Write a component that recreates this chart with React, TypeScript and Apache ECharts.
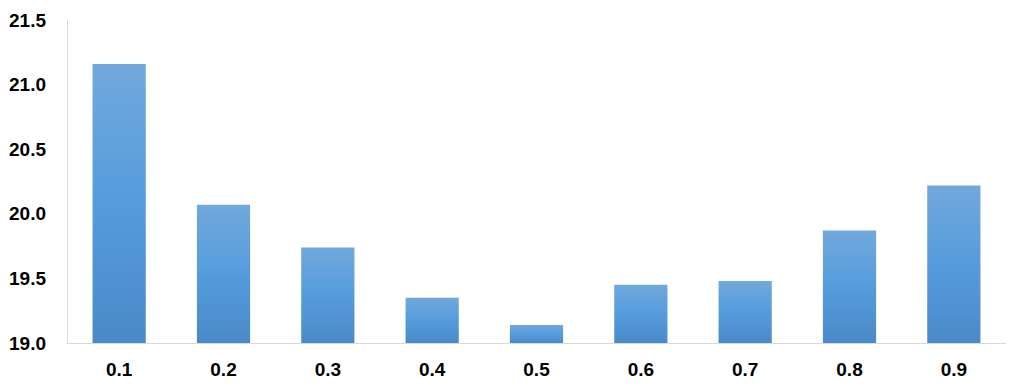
import React, { useEffect, useRef } from "react";
import * as echarts from "echarts";

const categories = ["0.1", "0.2", "0.3", "0.4", "0.5", "0.6", "0.7", "0.8", "0.9"];
const values = [21.16, 20.07, 19.74, 19.35, 19.14, 19.45, 19.48, 19.87, 20.22];
const yMin = 19.0;
const yMax = 21.5;
const yStep = 0.5;

export default function App() {
  const ref = useRef<HTMLDivElement>(null);
  useEffect(() => {
    document.body.style.margin = "0";
    if (!ref.current) return;
    const chart = echarts.init(ref.current, undefined, { renderer: "svg" });
    const font = "'Liberation Sans', Arial, sans-serif";
    chart.setOption({
      animation: false,
      grid: { left: 67, right: 15, top: 20, bottom: 49, containLabel: false },
      xAxis: {
        type: "category",
        data: categories,
        axisLine: { show: true, lineStyle: { color: "#D9D9D9", width: 1 } },
        axisTick: { show: false },
        axisLabel: { color: "#000", fontWeight: "bold", fontSize: 19, fontFamily: font, margin: 17 },
      },
      yAxis: {
        type: "value",
        min: yMin,
        max: yMax,
        interval: yStep,
        axisLine: { show: true, lineStyle: { color: "#D9D9D9", width: 1 } },
        axisTick: { show: false },
        splitLine: { show: false },
        axisLabel: {
          color: "#000",
          fontWeight: "bold",
          fontSize: 19,
          fontFamily: font,
          margin: 21,
          formatter: (v: number) => v.toFixed(1),
        },
      },
      series: [
        {
          type: "bar",
          data: values,
          barWidth: "51%",
          itemStyle: {
            color: new echarts.graphic.LinearGradient(0, 0, 0, 1, [
              { offset: 0, color: "#72A8DC" },
              { offset: 0.5, color: "#559CDD" },
              { offset: 1, color: "#4A89C8" },
            ]),
          },
        },
      ],
    });
    return () => chart.dispose();
  }, []);
  return <div ref={ref} style={{ width: 1021, height: 392 }} />;
}
